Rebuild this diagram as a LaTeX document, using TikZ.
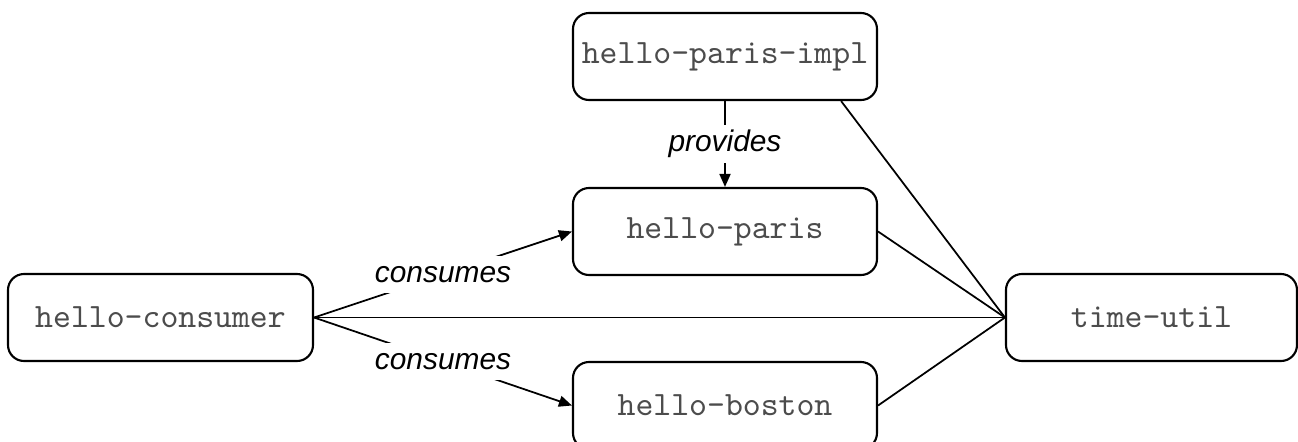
\documentclass[tikz,border=0pt]{standalone}
\usepackage{fontspec}
\setmainfont{Liberation Sans}
\usepackage{tikz}
\usetikzlibrary{calc}
\usetikzlibrary{positioning,arrows.meta}

\tikzset{
  module/.style={draw,rounded corners=0.16cm,line width=0.6pt,inner sep=0pt,
    minimum width=3.04cm,minimum height=0.87cm,
    font=\ttfamily\fontsize{9.7}{11}\selectfont,text=black!70},
  rel/.style={fill=white,inner sep=3pt,font=\itshape\fontsize{8.5}{10}\selectfont},
  dep/.style={line width=0.5pt},
  use/.style={line width=0.5pt,-{Triangle[length=1.3mm,width=1.1mm]}}
}

\begin{document}
\begin{tikzpicture}
    \useasboundingbox (0,0) rectangle (12.98,-4.41);
    \node[module] (impl) at (7.25,-0.565) {hello-paris-impl};
    \node[module] (paris) at (7.25,-2.315) {hello-paris};
    \node[module] (boston) at (7.25,-4.055) {hello-boston};
    \node[module,minimum width=3.05cm] (consumer) at (1.605,-3.175) {hello-consumer};
    \node[module,minimum width=2.91cm] (time) at (11.515,-3.175) {time-util};
    \draw[dep] (impl.-21.6) -- (time.west);
    \draw[dep] (paris.east) -- (time.west);
    \draw[dep] (boston.east) -- (time.west);
    \draw[dep] (consumer.east) -- (time.west);
    \draw[use] (impl.south) -- node[rel,inner sep=1.5pt] (prov) {provides} (paris.north);
    \draw[use] (consumer.east) -- node[rel] (cons1) {consumes} (paris.west);
    \draw[use] (consumer.east) -- node[rel] (cons2) {consumes} (boston.west);
\end{tikzpicture}
\end{document}
